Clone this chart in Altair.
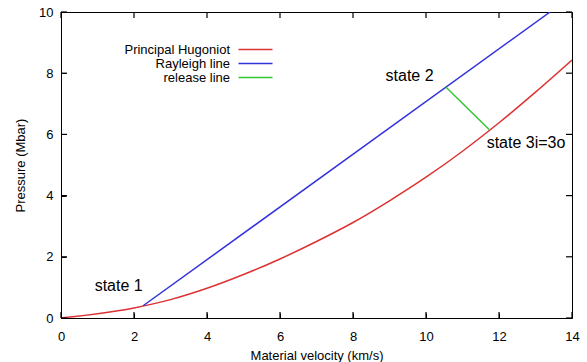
import altair as alt
import pandas as pd

FONT = "Liberation Sans"

# Principal Hugoniot (material velocity km/s, pressure Mbar)
hug_u = [0, 1, 2, 3, 4, 5, 6, 7, 8, 9, 10, 11, 12, 13, 14]
hug_p = [0, 0.14, 0.33, 0.6, 0.97, 1.42, 1.93, 2.5, 3.12, 3.83, 4.6, 5.45, 6.38, 7.38, 8.43]

# Rayleigh line
ray_u = [2.25, 13.4]
ray_p = [0.40, 10.0]

# Release line
rel_u = [10.55, 11.73]
rel_p = [7.54, 6.16]

series_names = ["Principal Hugoniot", "Rayleigh line", "release line"]
series_colors = ["#dc3232", "#3232dc", "#32c832"]

# Annotations
ann_text = ["state 1", "state 2", "state 3i=3o"]
ann_u = [1.58, 9.55, 12.74]
ann_p = [1.05, 7.91, 5.72]

# Tick values
x_ticks = [0, 2, 4, 6, 8, 10, 12, 14]
y_ticks = [0, 2, 4, 6, 8, 10]

rows = []
for u, p in zip(hug_u, hug_p):
    rows.append({"u": u, "P": p, "series": series_names[0]})
for u, p in zip(ray_u, ray_p):
    rows.append({"u": u, "P": p, "series": series_names[1]})
for u, p in zip(rel_u, rel_p):
    rows.append({"u": u, "P": p, "series": series_names[2]})
df = pd.DataFrame(rows)

ann = pd.DataFrame({"text": ann_text, "u": ann_u, "P": ann_p})
xt = pd.DataFrame({"v": x_ticks})
yt = pd.DataFrame({"v": y_ticks})

W, H = 511, 306
TICK = 6
TICK_COLOR = "#000000"

xs = alt.Scale(domain=[0, 14], nice=False, zero=False)
ys = alt.Scale(domain=[0, 10], nice=False, zero=False)

common = dict(ticks=True, tickSize=5, tickWidth=1, domain=False, grid=False, offset=-5,
              tickColor=TICK_COLOR, zindex=1,
              labelFont=FONT, labelFontSize=13, labelColor="black", labelFlush=False,
              titleFont=FONT, titleFontSize=13, titleFontWeight="normal", titleColor="black")

x_bottom = alt.Axis(values=x_ticks, orient="bottom", labelPadding=12,
                    title="Material velocity (km/s)", titleY=42, titleBaseline="middle", **common)
y_left = alt.Axis(values=y_ticks, orient="left", labelPadding=8,
                  title="Pressure (Mbar)", titleX=-46, titleY=153, titleBaseline="middle", **common)

# legend: labels right-aligned, line sample drawn to the right of the label
legend = alt.Legend(orient="none", legendX=156, legendY=31, title=None, padding=0, offset=0,
                    symbolType="M3,0H9.8", symbolSize=100, symbolStrokeWidth=1.5,
                    symbolFillColor="transparent",
                    rowPadding=0, labelAlign="right", labelOffset=0,
                    labelFont=FONT, labelFontSize=13, labelColor="black", labelLimit=300)

lines = alt.Chart(df).mark_line(strokeWidth=1.5, clip=True, interpolate="monotone").encode(
    x=alt.X("u:Q", scale=xs, axis=x_bottom),
    y=alt.Y("P:Q", scale=ys, axis=y_left),
    color=alt.Color("series:N", scale=alt.Scale(domain=series_names, range=series_colors),
                    legend=legend),
    detail="series:N",
)

# inward tick marks on all four sides (gnuplot style border ticks)
tick_top = alt.Chart(xt).mark_rule(color=TICK_COLOR, strokeWidth=1.2).encode(
    x=alt.X("v:Q", scale=xs, axis=None), y=alt.value(0), y2=alt.value(TICK))
tick_bottom = alt.Chart(xt).mark_rule(color=TICK_COLOR, strokeWidth=1.2).encode(
    x=alt.X("v:Q", scale=xs, axis=None), y=alt.value(H), y2=alt.value(H - TICK))
tick_left = alt.Chart(yt).mark_rule(color=TICK_COLOR, strokeWidth=1.2).encode(
    y=alt.Y("v:Q", scale=ys, axis=None), x=alt.value(0), x2=alt.value(TICK))
tick_right = alt.Chart(yt).mark_rule(color=TICK_COLOR, strokeWidth=1.2).encode(
    y=alt.Y("v:Q", scale=ys, axis=None), x=alt.value(W), x2=alt.value(W - TICK))

texts = alt.Chart(ann).mark_text(font=FONT, fontSize=16, color="black", align="center",
                                 baseline="middle").encode(
    x=alt.X("u:Q", scale=xs, axis=None),
    y=alt.Y("P:Q", scale=ys, axis=None),
    text="text:N",
)

chart = alt.layer(lines, tick_top, tick_bottom, tick_left, tick_right, texts).resolve_axis(
    x="independent", y="independent"
).properties(
    width=W, height=H,
    padding={"left": 61, "top": 12, "right": 15, "bottom": 44},
    autosize=alt.AutoSizeParams(type="none"),
    background="white",
).configure_view(stroke="black", strokeWidth=1)

chart.save("out.html", embed_options={"renderer": "svg", "actions": False})
